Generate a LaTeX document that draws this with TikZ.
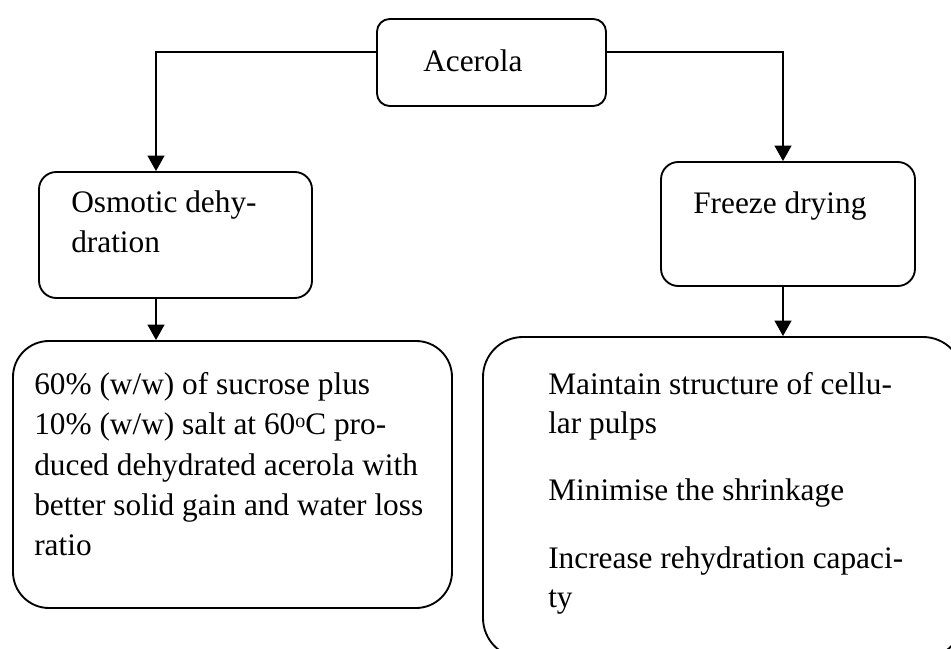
\documentclass[tikz,border=0pt]{standalone}
\usepackage{fontspec}
\setmainfont{Liberation Serif}
\usetikzlibrary{arrows.meta}
\begin{document}
\begin{tikzpicture}[x=0.75pt,y=-0.75pt,
  box/.style={draw=black,line width=1.4pt,inner sep=0pt,fill=none},
  txt/.style={anchor=base west,inner sep=0pt,font=\fontsize{23.5}{29}\selectfont},
  arr/.style={line width=1.4pt,-{Triangle[length=11.5pt,width=12.5pt]}},
  conn/.style={line width=1.4pt}]
\useasboundingbox (0,0) rectangle (951,649);
\clip (0,0) rectangle (951,649);
\fill[white] (0,0) rectangle (951,649);
% boxes
\node[box,rounded corners=9.5pt,minimum width=171.75pt,minimum height=65.25pt] (acer) at (491.5,62.5) {};
\node[box,rounded corners=13pt,minimum width=204.75pt,minimum height=94.5pt] (osm) at (175.5,235) {};
\node[box,rounded corners=13pt,minimum width=190.5pt,minimum height=93pt] (frz) at (788,224) {};
\node[box,rounded corners=27pt,minimum width=329.25pt,minimum height=200.25pt] (bl) at (232.5,474.5) {};
\node[box,rounded corners=30pt,minimum width=360pt,minimum height=240.75pt] (br) at (723,497.5) {};
% texts
\node[txt] (tacer) at (423,72) {Acerola};
\node[txt] (tosm1) at (71,213) {Osmotic dehy-};
\node[txt] (tosm2) at (71,253) {dration};
\node[txt] (tfrz) at (693,214) {Freeze drying};
\node[txt] (tbl1) at (34,395) {60\% (w/w) of sucrose plus};
\node[txt] (tbl2) at (34,435) {10\% (w/w) salt at 60\raisebox{0.25em}{\fontsize{15}{15}\selectfont o}C pro-};
\node[txt] (tbl3) at (34,475) {duced dehydrated acerola with};
\node[txt] (tbl4) at (34,515) {better solid gain and water loss};
\node[txt] (tbl5) at (34,555) {ratio};
\node[txt] (tbr1) at (548,395) {Maintain structure of cellu-};
\node[txt] (tbr2) at (548,433) {lar pulps};
\node[txt] (tbr3) at (548,500) {Minimise the shrinkage};
\node[txt] (tbr4) at (548,568) {Increase rehydration capaci-};
\node[txt] (tbr5) at (548,607) {ty};
% connector points
\coordinate (aL) at (acer.west |- 0,52);
\coordinate (aR) at (acer.east |- 0,52);
\coordinate (oT) at (156,0 |- osm.north);
\coordinate (fT) at (783,0 |- frz.north);
\coordinate (oB) at (156,0 |- osm.south);
\coordinate (fB) at (783,0 |- frz.south);
\coordinate (blT) at (156,0 |- bl.north);
\coordinate (brT) at (783,0 |- br.north);
% connectors
\draw[arr] (aL) -| (oT);
\draw[arr] (aR) -| (fT);
\draw[arr] (oB) -- (blT);
\draw[arr] (fB) -- (brT);
\end{tikzpicture}
\end{document}
